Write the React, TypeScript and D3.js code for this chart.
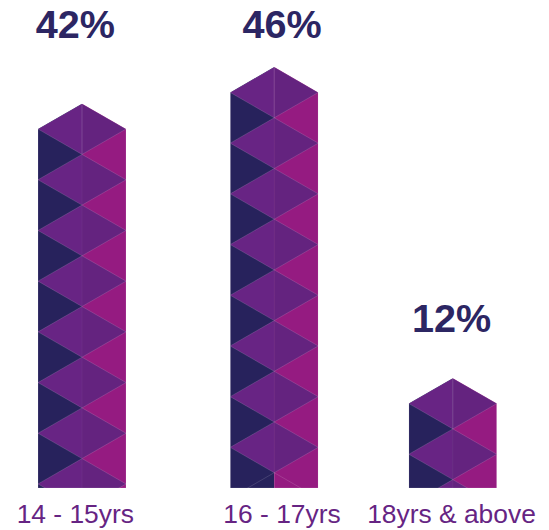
import React from 'react';
import * as d3 from 'd3';

// Share of respondents per age group
const ageGroups = ['14 - 15yrs', '16 - 17yrs', '18yrs & above'];
const shares = [42, 46, 12];
// Rows at the foot of a column that keep the side colours, with only the outline of the diamond
const outlineOnlyRows = [0, 1, 0];

const WIDTH = 549;
const HEIGHT = 530;
const BASELINE = 488;
const HALF_WIDTH = 44;
const HALF_ROW = 25.35;

const NAVY = '#27225c';
const MAGENTA = '#951b81';
const PURPLE_L = '#682484';
const PURPLE_R = '#64237f';
const EDGE = 'rgba(255,255,255,0.2)';
const FONT = '"Liberation Sans", Arial, sans-serif';

const y = d3.scaleLinear().domain([0, 46]).range([BASELINE, 67.1]);
const barCentre = d3.scaleOrdinal<string, number>().domain(ageGroups).range([82, 274.2, 452.8]);
const textCentre = d3.scaleOrdinal<string, number>().domain(ageGroups).range([75.3, 282, 451.5]);
const valueBaseline = d3.scaleOrdinal<string, number>().domain(ageGroups).range([38, 38, 332]);

const pathOf = d3.line<[number, number]>();

function Column({ group, value, tailOutline, index }: { group: string; value: number; tailOutline: number; index: number }) {
  const cx = barCentre(group);
  const top = y(value);
  const left = cx - HALF_WIDTH;
  const right = cx + HALF_WIDTH;
  const rowCount = Math.ceil((BASELINE - top) / (HALF_ROW * 2));
  const rows = d3.range(rowCount);
  const clipId = `column-${index}`;
  const outlined = rowCount - tailOutline;

  return (
    <g>
      <clipPath id={clipId}>
        <path
          d={pathOf([
            [left, top + HALF_ROW],
            [cx, top],
            [right, top + HALF_ROW],
            [right, BASELINE],
            [left, BASELINE],
          ]) + 'Z'}
        />
      </clipPath>
      <g clipPath={`url(#${clipId})`}>
        <rect x={left} y={top} width={HALF_WIDTH} height={BASELINE - top} fill={NAVY} />
        <rect x={cx} y={top} width={HALF_WIDTH} height={BASELINE - top} fill={MAGENTA} />
        {rows.map((r) => {
          const a = top + r * HALF_ROW * 2;
          const m = a + HALF_ROW;
          const b = a + HALF_ROW * 2;
          const leftHalf = pathOf([[cx, a], [left, m], [cx, b]]) + 'Z';
          const rightHalf = pathOf([[cx, a], [right, m], [cx, b]]) + 'Z';
          const filled = r < outlined;
          return (
            <g key={r}>
              {filled && <path d={leftHalf} fill={PURPLE_L} />}
              {filled && <path d={rightHalf} fill={PURPLE_R} />}
              <path
                d={pathOf([[cx, a], [left, m], [cx, b], [right, m]]) + 'Z'}
                fill="none"
                stroke={EDGE}
                strokeWidth={0.7}
              />
              {filled && (
                <line x1={cx} x2={cx} y1={a} y2={b} stroke={r === 0 ? 'rgba(255,255,255,0.2)' : 'rgba(255,255,255,0.05)'} strokeWidth={0.8} />
              )}
            </g>
          );
        })}
      </g>
      <path
        d={pathOf([[left, top + HALF_ROW], [left, BASELINE], [right, BASELINE], [right, top + HALF_ROW]]) ?? ''}
        fill="none"
        stroke={EDGE}
        strokeWidth={0.7}
      />
      <text x={textCentre(group)} y={valueBaseline(group)} textAnchor="middle" fontFamily={FONT} fontWeight={700} fontSize={39.6} fill="#2c2663">
        {value}%
      </text>
      <text x={textCentre(group)} y={523} textAnchor="middle" fontFamily={FONT} fontSize={26.4} fill="#662483">
        {group}
      </text>
    </g>
  );
}

export default function App() {
  return (
    <svg width={WIDTH} height={HEIGHT} style={{ position: 'absolute', left: 0, top: 0, background: '#fff' }}>
      {ageGroups.map((g, i) => (
        <Column key={g} group={g} value={shares[i]} tailOutline={outlineOnlyRows[i]} index={i} />
      ))}
    </svg>
  );
}
